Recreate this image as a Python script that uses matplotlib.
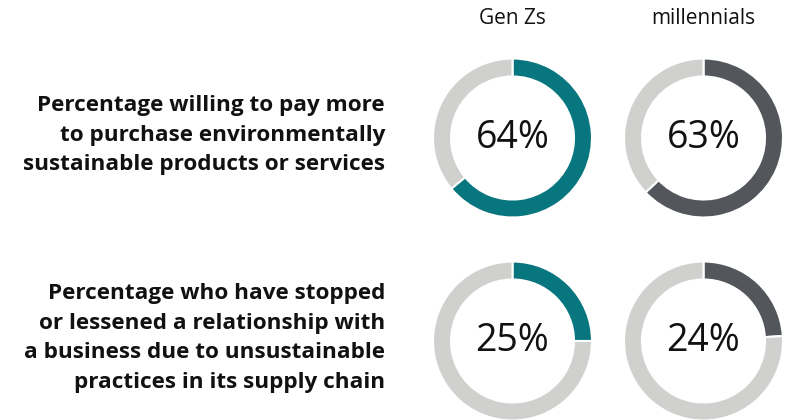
import matplotlib
matplotlib.use("Agg")
import matplotlib.pyplot as plt

plt.rcParams['font.family'] = ['Open Sans', 'DejaVu Sans']

# data
groups = ['Gen Zs', 'millennials']
questions = [
    'Percentage willing to pay more\nto purchase environmentally\nsustainable products or services',
    'Percentage who have stopped\nor lessened a relationship with\na business due to unsustainable\npractices in its supply chain',
]
values = [[64, 63], [25, 24]]
group_colors = ['#08767E', '#53565A']
rest_color = '#D0D0CE'

W, H = 789, 420
fig = plt.figure(figsize=(W / 100, H / 100), dpi=100)
ax = fig.add_axes([0, 0, 1, 1])

col_x = [512.5, 703.5]
row_y = [138, 341]
text_y = [135, 338]
r_out = 79.5
ring = 18

for i, q in enumerate(questions):
    cy = H - row_y[i]
    for j, g in enumerate(groups):
        v = values[i][j]
        ax.pie([v, 100 - v], colors=[group_colors[j], rest_color],
               startangle=90, counterclock=False, radius=r_out,
               center=(col_x[j], cy),
               wedgeprops=dict(width=ring, edgecolor='white', linewidth=1.5))
        ax.text(col_x[j], cy, f'{v}%', ha='center', va='center',
                fontsize=27, color='#111111')
    ax.text(385, H - text_y[i], q, ha='right', va='center', fontsize=16.2,
            fontweight='bold', color='#111111', linespacing=1.55)

for j, g in enumerate(groups):
    ax.text(col_x[j], H - 19, g, ha='center', va='center', fontsize=15,
            color='#111111')

ax.set_xlim(0, W)
ax.set_ylim(0, H)
ax.set_aspect('auto')
ax.axis('off')

fig.savefig('out.png', dpi=100, facecolor='white')
